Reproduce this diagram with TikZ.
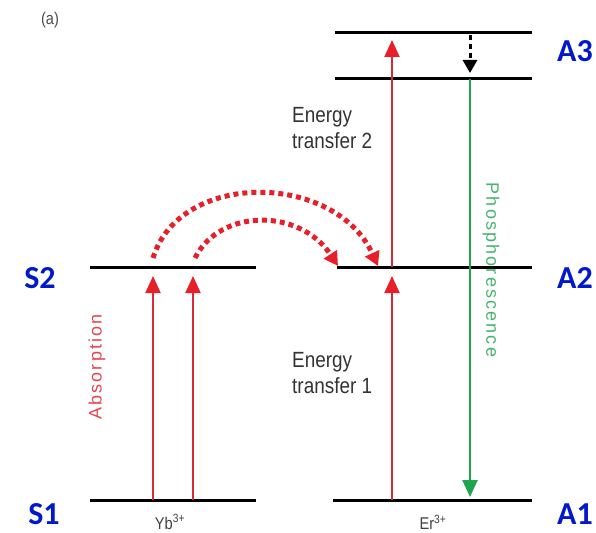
\documentclass[tikz,border=0pt]{standalone}
\usepackage{fontspec}
\setmainfont{Liberation Sans}
\newfontfamily\labfont{Carlito}
\newfontfamily\condfont[FakeStretch=0.86]{Liberation Sans}
\newfontfamily\spacedfont[LetterSpace=12]{Liberation Sans}
\usetikzlibrary{arrows.meta}
\definecolor{myred}{RGB}{232,30,40}
\definecolor{stemred}{RGB}{212,45,58}
\definecolor{mygreen}{RGB}{30,165,80}
\definecolor{txtgreen}{RGB}{70,180,110}
\definecolor{txtred}{RGB}{228,70,80}
\definecolor{myblue}{RGB}{0,25,205}
\tikzset{
  level/.style={line width=3pt, black},
  upred/.style={draw=stemred, line width=2pt, -{Triangle[width=15pt,length=17pt,color=myred]}},
  transfer/.style={draw=myred, line width=5pt, dash pattern=on 5pt off 4pt, -{Triangle[width=15pt,length=14pt,color=myred]}},
  relax/.style={draw=black, line width=3pt, dash pattern=on 5pt off 4pt, -{Triangle[width=14pt,length=13pt,color=black]}},
  emit/.style={draw=mygreen, line width=2.5pt, -{Triangle[width=15pt,length=17pt,color=mygreen]}},
  lvllab/.style={font=\labfont\bfseries\fontsize{32}{34}\selectfont, text=myblue, inner sep=0pt},
  smalltxt/.style={font=\condfont\fontsize{22}{26}\selectfont, text=black!80, align=left, inner sep=0pt},
  ionlab/.style={font=\condfont\fontsize{17}{19}\selectfont, text=black!75, inner sep=0pt},
  vlab/.style={font=\spacedfont\fontsize{18}{20}\selectfont, inner sep=0pt},
}
\begin{document}
\begin{tikzpicture}[x=1pt,y=-1pt]
\useasboundingbox (0,0) rectangle (596,532);
% level end points
\coordinate (s1l) at (90,500); \coordinate (s1r) at (256,500);
\coordinate (s2l) at (90,267); \coordinate (s2r) at (256,267);
\coordinate (a1l) at (333,500); \coordinate (a1r) at (532,500);
\coordinate (a2l) at (337,267); \coordinate (a2r) at (532,267);
\coordinate (a3bl) at (335,79); \coordinate (a3br) at (532,79);
\coordinate (a3tl) at (335,33); \coordinate (a3tr) at (532,33);
\draw[level] (s1l) -- (s1r);
\draw[level] (s2l) -- (s2r);
\draw[level] (a1l) -- (a1r);
\draw[level] (a2l) -- (a2r);
\draw[level] (a3bl) -- (a3br);
\draw[level] (a3tl) -- (a3tr);
% arrow end points
\coordinate (ab1s) at (153,500); \coordinate (ab1e) at (153,276);
\coordinate (ab2s) at (193,500); \coordinate (ab2e) at (193,276);
\coordinate (et1s) at (392,500); \coordinate (et1e) at (392,276);
\coordinate (et2s) at (392,267); \coordinate (et2e) at (392,40);
\coordinate (rls) at (470,35); \coordinate (rle) at (470,73);
\coordinate (phs) at (470,79); \coordinate (phe) at (470,497);
\coordinate (t1s) at (153,258); \coordinate (t1e) at (378,266);
\coordinate (t2s) at (195,258); \coordinate (t2e) at (338,266);
\draw[upred] (ab1s) -- (ab1e);
\draw[upred] (ab2s) -- (ab2e);
\draw[upred] (et1s) -- (et1e);
\draw[upred] (et2s) -- (et2e);
\draw[relax] (rls) -- (rle);
\draw[emit] (phs) -- (phe);
\draw[transfer] (t1s) .. controls (180,170) and (335,172) .. (t1e);
\draw[transfer] (t2s) .. controls (220,208) and (300,208) .. (t2e);
% labels
\node[lvllab] (S2) at (40,278) {S2};
\node[lvllab] (S1) at (44,514) {S1};
\node[lvllab] (A3) at (575,51) {A3};
\node[lvllab] (A2) at (575,278) {A2};
\node[lvllab] (A1) at (575,514) {A1};
\node[smalltxt, anchor=west] (et2) at (292,128) {Energy\\transfer 2};
\node[smalltxt, anchor=west] (et1) at (292,373) {Energy\\transfer 1};
\node[vlab, text=txtgreen, rotate=-90] (phos) at (491,270) {Phosphorescence};
\node[vlab, text=txtred, rotate=90] (abs) at (97,367) {Absorption};
\node[ionlab] (yb) at (170,522) {Yb\textsuperscript{3+}};
\node[ionlab] (er) at (433,522) {Er\textsuperscript{3+}};
\node[ionlab, text=black!70] (lbl) at (50,20) {(a)};
\end{tikzpicture}
\end{document}
